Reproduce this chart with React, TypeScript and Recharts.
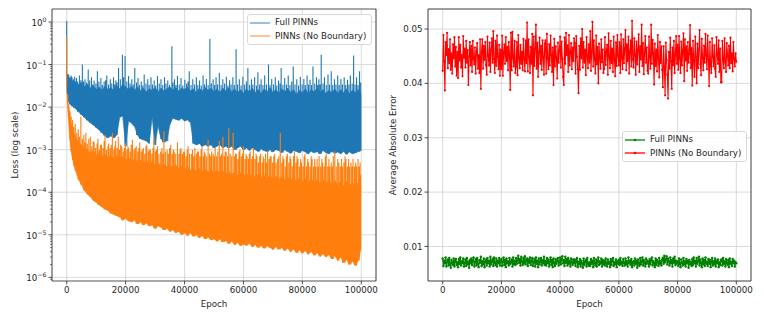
import React from 'react';
import {
  ComposedChart,
  Area,
  Line,
  XAxis,
  YAxis,
  CartesianGrid,
  ReferenceArea,
  Legend,
} from 'recharts';

const FONT = '"DejaVu Sans", Verdana, sans-serif';
const TEXT = '#262626';
const FRAME = '#262626';
const GRID = '#d2d2d2';
const FS = 8.7;

// ---------- left panel: training loss (log scale) ----------
const earlyEpochs = [0, 200, 500, 1000, 1500, 2000, 2500];
const lossEpochs = [...earlyEpochs, ...Array.from({ length: 98 }, (_, i) => 3000 + i * 1000)];

// lower / upper edge of the solid part of each band, read per sampled epoch
const fullLow = [
  0.03, 0.02, 0.014, 0.012, 0.011, 0.0105, 0.0098,
  0.0092, 0.0078, 0.0066, 0.0058, 0.0049, 0.0043, 0.0038, 0.0033, 0.0029, 0.0025,
  0.0021, 0.0019, 0.0021, 0.0019, 0.0022, 0.0058, 0.0062, 0.0012, 0.0047, 0.0042,
  0.0036, 0.0022, 0.0018, 0.0017, 0.0016, 0.0014, 0.0056, 0.0013, 0.0036, 0.0018,
  0.0015, 0.0016, 0.0038, 0.0055, 0.0052, 0.0049, 0.0054, 0.0047, 0.005, 0.0044,
  0.0014, 0.0013, 0.0014, 0.0012, 0.0013, 0.0012, 0.0013, 0.0011, 0.0012, 0.0013,
  0.0011, 0.0012, 0.0011, 0.0012, 0.001, 0.0011, 0.0012, 0.001, 0.0011, 0.00095,
  0.0011, 0.001, 0.0009, 0.00105, 0.00095, 0.0009, 0.001, 0.00088, 0.001, 0.00095,
  0.00085, 0.001, 0.0009, 0.00082, 0.00095, 0.0009, 0.00085, 0.00095, 0.00088, 0.0008,
  0.00092, 0.00085, 0.0009, 0.0008, 0.00095, 0.00085, 0.0008, 0.0009, 0.00082, 0.00088,
  0.0008, 0.0009, 0.00078, 0.00088, 0.0008, 0.00085, 0.0009, 0.00095,
];
const fullHigh = [
  0.06, 0.055, 0.05, 0.045, 0.04, 0.042, 0.036,
  0.04, 0.034, 0.038, 0.03, 0.035, 0.028, 0.032, 0.026, 0.03, 0.025,
  0.031, 0.026, 0.029, 0.024, 0.032, 0.027, 0.034, 0.03, 0.026, 0.031,
  0.025, 0.03, 0.024, 0.028, 0.023, 0.027, 0.025, 0.029, 0.023, 0.028,
  0.024, 0.027, 0.03, 0.025, 0.029, 0.024, 0.028, 0.026, 0.03, 0.024,
  0.027, 0.022, 0.028, 0.024, 0.029, 0.025, 0.028, 0.023, 0.027, 0.022,
  0.028, 0.024, 0.029, 0.023, 0.027, 0.022, 0.026, 0.021, 0.027, 0.023,
  0.028, 0.022, 0.026, 0.021, 0.027, 0.023, 0.029, 0.022, 0.026, 0.021,
  0.027, 0.023, 0.028, 0.022, 0.026, 0.02, 0.025, 0.022, 0.027, 0.021,
  0.026, 0.023, 0.028, 0.022, 0.026, 0.021, 0.025, 0.022, 0.027, 0.021,
  0.026, 0.022, 0.027, 0.021, 0.025, 0.022, 0.026, 0.02,
];
const noBcLow = [
  0.03, 0.012, 0.006, 0.0018, 0.0009, 5.8e-4, 4.2e-4,
  3.2e-4, 2e-4, 1.5e-4, 1.1e-4, 9e-5, 7.8e-5, 6.4e-5, 5.8e-5, 5e-5, 4.5e-5,
  4e-5, 3.7e-5, 3.2e-5, 3e-5, 2.8e-5, 2.6e-5, 2.2e-5, 2.4e-5, 2.1e-5, 2e-5,
  2.2e-5, 1.8e-5, 2e-5, 1.7e-5, 1.9e-5, 1.6e-5, 1.7e-5, 1.4e-5, 1.6e-5, 1.5e-5,
  1.3e-5, 1.4e-5, 1.2e-5, 1.3e-5, 1.1e-5, 1.2e-5, 1e-5, 1.1e-5, 9.5e-6, 1.1e-5,
  9.2e-6, 1e-5, 8.5e-6, 9.5e-6, 8e-6, 8.8e-6, 7.5e-6, 8e-6, 7e-6, 7.8e-6,
  6.8e-6, 7.2e-6, 6.2e-6, 7e-6, 5.8e-6, 6.5e-6, 5.5e-6, 6e-6, 5.6e-6, 6.2e-6,
  5.2e-6, 5.8e-6, 5e-6, 5.6e-6, 4.8e-6, 5.5e-6, 5e-6, 4.5e-6, 5.2e-6, 4.6e-6,
  5e-6, 4.2e-6, 4.8e-6, 4e-6, 4.6e-6, 3.8e-6, 4.4e-6, 3.7e-6, 4.2e-6, 3.5e-6,
  4e-6, 3.3e-6, 3.8e-6, 3.1e-6, 3.6e-6, 3e-6, 3.4e-6, 2.7e-6, 3.2e-6, 2.5e-6,
  3e-6, 2.2e-6, 2.6e-6, 2e-6, 2.4e-6, 1.9e-6, 2.5e-6, 5e-6,
];
const noBcHigh = [
  0.05, 0.02, 0.012, 0.007, 0.004, 0.003, 0.0024,
  0.002, 0.0015, 0.0013, 0.0011, 0.001, 8.5e-4, 9.5e-4, 7.5e-4, 8.5e-4, 7e-4,
  8e-4, 6.6e-4, 7.6e-4, 6.4e-4, 7.2e-4, 6.2e-4, 6.9e-4, 5.7e-4, 6.5e-4, 5.5e-4,
  6e-4, 5.2e-4, 5.8e-4, 4.9e-4, 5.5e-4, 4.6e-4, 5.2e-4, 4.4e-4, 5e-4, 4.2e-4,
  4.7e-4, 4e-4, 4.5e-4, 3.8e-4, 4.4e-4, 3.6e-4, 4.2e-4, 3.5e-4, 4e-4, 3.3e-4,
  3.8e-4, 3.2e-4, 3.6e-4, 3.1e-4, 3.5e-4, 3e-4, 3.4e-4, 2.9e-4, 3.3e-4, 2.8e-4,
  3.2e-4, 2.7e-4, 3.1e-4, 2.6e-4, 3e-4, 2.5e-4, 2.9e-4, 2.4e-4, 2.8e-4, 2.3e-4,
  2.7e-4, 2.2e-4, 2.6e-4, 2.2e-4, 2.5e-4, 2.1e-4, 2.5e-4, 2e-4, 2.4e-4, 2e-4,
  2.3e-4, 1.9e-4, 2.3e-4, 1.9e-4, 2.2e-4, 1.8e-4, 2.2e-4, 1.8e-4, 2.1e-4, 1.7e-4,
  2.1e-4, 1.7e-4, 2e-4, 1.6e-4, 2e-4, 1.6e-4, 1.9e-4, 1.5e-4, 1.9e-4, 1.5e-4,
  1.8e-4, 1.4e-4, 1.8e-4, 1.4e-4, 1.7e-4, 1.4e-4, 1.7e-4, 2.6e-4,
];

// thin spikes sticking out above each band
const fullSpikeEpochs = [
  0, 300, 700, 1100, 1500, 1800, 2300, 2700, 3300, 3700, 4300, 4800, 5300, 5700, 6200, 6700,
  7300, 7800, 8400, 8800, 9300, 9900, 10400, 10900, 11600, 12100, 12700, 13200, 13600, 14200,
  14800, 15300, 15900, 16300, 16700, 17100, 17600, 18200, 18900, 19300, 19800, 20400, 21000,
  21500, 22100, 22600, 23100, 23700, 24200, 24700, 25300, 25800, 26300, 26900, 27500, 28000,
  28600, 29100, 29700, 30200, 30800, 31400, 32000, 32600, 33200, 33700, 34300, 34900, 35700,
  36100, 36600, 37100, 37600, 38200, 38800, 39400, 40100, 40700, 41200, 41600, 42200, 42800,
  43400, 44000, 44500, 45100, 45700, 46300, 46800, 47400, 48000, 48600, 49100, 49700, 50200,
  50700, 51200, 51800, 52400, 53000, 53600, 54200, 54700, 55300, 55800, 56400, 56900, 57500,
  58000, 58600, 59200, 59800, 60400, 61000, 61500, 62100, 62700, 63200, 63800, 64400, 64900,
  65500, 66000, 66600, 67200, 67800, 68500, 69000, 69600, 70200, 70800, 71300, 71900, 72400,
  72800, 73400, 74000, 74600, 75200, 75800, 76400, 76900, 77500, 78100, 78700, 79300, 79900,
  80500, 81000, 81600, 82100, 82600, 83100, 83600, 84200, 84800, 85200, 85600, 86000, 86400,
  87000, 87500, 88100, 88700, 89200, 89800, 90300, 90900, 91400, 92000, 92500, 93100, 93600,
  94200, 94700, 95300, 95800, 96300, 96900, 97400, 97900, 98400, 98900, 99400, 99800,
];
const fullSpikePeaks = [
  1.05, 0.06, 0.058, 0.05, 0.055, 0.05, 0.045, 0.052, 0.048, 0.04, 0.055, 0.043, 0.1, 0.04, 0.045, 0.038,
  0.077, 0.042, 0.05, 0.034, 0.042, 0.036, 0.07, 0.04, 0.048, 0.033, 0.04, 0.043, 0.055, 0.034,
  0.045, 0.036, 0.05, 0.034, 0.042, 0.038, 0.083, 0.045, 0.17, 0.05, 0.158, 0.04, 0.054,
  0.036, 0.045, 0.034, 0.083, 0.038, 0.048, 0.033, 0.04, 0.032, 0.058, 0.036, 0.045, 0.033,
  0.05, 0.034, 0.042, 0.032, 0.054, 0.036, 0.045, 0.033, 0.05, 0.036, 0.042, 0.033, 0.27,
  0.038, 0.045, 0.033, 0.054, 0.034, 0.048, 0.032, 0.044, 0.036, 0.04, 0.07, 0.033, 0.045,
  0.034, 0.05, 0.033, 0.042, 0.032, 0.055, 0.034, 0.046, 0.033, 0.4, 0.036, 0.045, 0.033,
  0.05, 0.034, 0.064, 0.033, 0.045, 0.036, 0.052, 0.032, 0.043, 0.034, 0.05, 0.033, 0.23,
  0.034, 0.045, 0.032, 0.052, 0.034, 0.04, 0.083, 0.033, 0.045, 0.034, 0.05, 0.032, 0.066,
  0.034, 0.045, 0.033, 0.055, 0.034, 0.1, 0.033, 0.046, 0.034, 0.05, 0.032, 0.042, 0.036,
  0.083, 0.033, 0.048, 0.034, 0.055, 0.033, 0.04, 0.09, 0.034, 0.045, 0.032, 0.052, 0.034,
  0.046, 0.033, 0.055, 0.034, 0.044, 0.033, 0.09, 0.036, 0.05, 0.033, 0.045, 0.034, 0.17,
  0.036, 0.05, 0.033, 0.058, 0.034, 0.07, 0.033, 0.045, 0.034, 0.055, 0.033, 0.046, 0.034,
  0.05, 0.033, 0.044, 0.034, 0.055, 0.036, 0.164, 0.034, 0.05, 0.033, 0.07, 0.038,
];
const noBcSpikeEpochs = [
  0, 300, 700, 1100, 1500, 2000, 2400, 2900, 3400, 3900, 4300, 4800, 5300, 5800, 6200, 6500,
  7000, 7500, 8000, 8500, 9000, 9300, 9800, 10300, 10600, 11100, 11500, 11800, 12300, 12700,
  13000, 13500, 14000, 14200, 14700, 15100, 15500, 16000, 16300, 16600, 17100, 17500, 17900,
  18300, 18700, 19200, 19600, 19900, 20400, 20800, 21000, 21500, 21900, 22300, 22800, 23200,
  23600, 24100, 24500, 24800, 25300, 25700, 26000, 26500, 26900, 27200, 27700, 28000, 28400,
  28900, 29300, 29600, 30100, 30500, 30800, 31300, 31900, 32300, 32700, 33000, 33500, 34100,
  34500, 34900, 35300, 35800, 36200, 36500, 37000, 37600, 38100, 38500, 38800, 39300, 39700,
  40000, 40500, 40900, 41200, 41700, 42300, 42700, 43100, 43500, 44000, 44400, 44700, 45200,
  45600, 45900, 46400, 46700, 47000, 47500, 48000, 48500, 48900, 49200, 49700, 50100, 50400,
  50900, 51300, 51800, 52200, 52600, 53000, 53500, 53800, 54100, 54600, 55000, 55500, 56000,
  56500, 57000, 57300, 57600, 58100, 58500, 58800, 59300, 59700, 60000, 60500, 60900, 61200,
  61700, 62000, 62300, 62800, 63100, 63400, 63900, 64300, 64600, 65100, 65500, 65800, 66300,
  66700, 67000, 67500, 67900, 68200, 68700, 69100, 69400, 69900, 70300, 70600, 71100, 71600,
  72000, 72500, 73000, 73400, 73700, 74200, 74600, 74900, 75400, 75800, 76100, 76600, 77000,
  77300, 77800, 78200, 78500, 79000, 79400, 79700, 80200, 80600, 80900, 81400, 81800, 82100,
  82600, 83000, 83300, 83800, 84200, 84500, 85000, 85400, 85700, 86200, 86600, 86900, 87400,
  87800, 88100, 88600, 89000, 89300, 89800, 90200, 90500, 91000, 91500, 92000, 92400, 92900,
  93300, 93600, 94100, 94500, 94800, 95300, 95700, 96000, 96500, 96900, 97200, 97700, 98100,
  98400, 98900, 99300, 99600,
];
const noBcSpikePeaks = [
  0.45, 0.02, 0.012, 0.008, 0.006, 0.005, 0.0035, 0.004, 0.0025, 0.003, 0.002, 0.006, 0.0018, 0.0022, 0.0015, 0.0025,
  0.0014, 0.0018, 0.002, 0.0012, 0.0016, 0.0015, 0.0011, 0.0014, 0.0018, 0.001, 0.0013, 0.0013, 0.0011, 0.0016,
  0.0022, 0.001, 0.0012, 0.0014, 0.0011, 0.0013, 0.0025, 0.001, 0.0012, 0.0016, 0.0011, 0.002, 0.001,
  0.0013, 0.0012, 0.0009, 0.0011, 0.0014, 0.001, 0.0012, 0.0011, 0.0009, 0.0013, 0.0017, 0.001, 0.0011,
  0.0012, 0.0009, 0.0011, 0.0015, 0.0009, 0.001, 0.0011, 0.0008, 0.0012, 0.0013, 0.0009, 0.001, 0.001,
  0.0008, 0.0011, 0.002, 0.0009, 0.001, 0.0012, 0.0008, 0.0009, 0.0011, 0.0008, 0.0027, 0.0009, 0.001,
  0.0008, 0.0011, 0.0013, 0.0008, 0.001, 0.0009, 0.0008, 0.0015, 0.0008, 0.001, 0.0011, 0.0008, 0.0009,
  0.0009, 0.0007, 0.001, 0.0012, 0.0008, 0.0008, 0.001, 0.0007, 0.0011, 0.0008, 0.0009, 0.0009, 0.0007,
  0.001, 0.0012, 0.0007, 0.0009, 0.0008, 0.0007, 0.0017, 0.0008, 0.0007, 0.0009, 0.0008, 0.0007, 0.0011,
  0.0007, 0.0009, 0.0016, 0.0007, 0.0008, 0.002, 0.0007, 0.0009, 0.0009, 0.0007, 0.0032, 0.0008, 0.0007,
  0.0025, 0.0007, 0.0008, 0.0008, 0.0006, 0.0009, 0.001, 0.0007, 0.0008, 0.0012, 0.0006, 0.0008, 0.0007,
  0.0006, 0.0008, 0.0009, 0.0006, 0.0007, 0.0011, 0.0006, 0.0008, 0.0007, 0.0005, 0.0007, 0.0008, 0.0005,
  0.0007, 0.0006, 0.0008, 0.0005, 0.0009, 0.0006, 0.0007, 0.0007, 0.0005, 0.0007, 0.0008, 0.0005, 0.0006,
  0.0007, 0.0025, 0.0005, 0.0007, 0.0006, 0.0004, 0.0007, 0.0008, 0.0005, 0.0007, 0.0006, 0.0004, 0.0007,
  0.0009, 0.0005, 0.0007, 0.0006, 0.0004, 0.0006, 0.0005, 0.0004, 0.0007, 0.0008, 0.0004, 0.0006, 0.0005,
  0.0004, 0.0007, 0.0006, 0.0004, 0.0006, 0.0004, 0.0006, 0.0004, 0.0007, 0.0004, 0.0006, 0.0005, 0.0004,
  0.0007, 0.0008, 0.0004, 0.0006, 0.0004, 0.0005, 0.0004, 0.0007, 0.0009, 0.0004, 0.0006, 0.0005, 0.0004,
  0.0006, 0.0004, 0.0005, 0.0007, 0.0006, 0.0004, 0.0006, 0.0004, 0.0005, 0.0004, 0.0006, 0.0004, 0.0005,
  0.0004, 0.0006, 0.0004, 0.0005,
];

const epochTicks = [0, 20000, 40000, 60000, 80000, 100000];
const lossDecades = [1, 1e-1, 1e-2, 1e-3, 1e-4, 1e-5, 1e-6];
const LOSS_MIN = 8.2e-7;
const LOSS_MAX = 2.02;

// ---------- right panel: average absolute error ----------
const errEpochs = Array.from({ length: 401 }, (_, i) => i * 250);
const fullErr = [
  0.0078, 0.0064, 0.0074, 0.0069, 0.008, 0.0063, 0.0072, 0.0076, 0.0065, 0.0079, 0.0068, 0.0061, 0.0075, 0.007, 0.0066, 0.0078, 0.0063, 0.0073, 0.0077, 0.0066,
  0.0071, 0.0062, 0.0077, 0.0068, 0.008, 0.0065, 0.0073, 0.0069, 0.0078, 0.0063, 0.007, 0.0076, 0.0064, 0.0079, 0.0067, 0.0072, 0.0061, 0.0075, 0.0069, 0.0078,
  0.0066, 0.0074, 0.008, 0.0063, 0.0071, 0.0077, 0.0065, 0.0079, 0.0068, 0.0062, 0.0075, 0.007, 0.0081, 0.0064, 0.0073, 0.0067, 0.0078, 0.0062, 0.0072, 0.0076,
  0.0065, 0.0079, 0.0069, 0.0074, 0.0063, 0.0081, 0.0067, 0.0072, 0.0077, 0.0064, 0.008, 0.007, 0.0066, 0.0078, 0.0063, 0.0074, 0.0069, 0.0079, 0.0065, 0.0073,
  0.0077, 0.0064, 0.0072, 0.008, 0.0066, 0.0075, 0.0062, 0.0078, 0.0069, 0.0073, 0.0065, 0.0079, 0.0068, 0.0071, 0.0076, 0.0063, 0.008, 0.0067, 0.0074, 0.0066,
  0.0079, 0.0068, 0.0075, 0.0083, 0.007, 0.0077, 0.0065, 0.0081, 0.0072, 0.0066, 0.0079, 0.0069, 0.0082, 0.0067, 0.0074, 0.0078, 0.0064, 0.0076, 0.007, 0.008,
  0.0066, 0.0073, 0.0079, 0.0064, 0.0071, 0.0077, 0.0063, 0.008, 0.0068, 0.0074, 0.0062, 0.0078, 0.0067, 0.0072, 0.0079, 0.0065, 0.0075, 0.0069, 0.0081, 0.0066,
  0.0074, 0.0065, 0.0079, 0.0069, 0.0076, 0.0063, 0.0072, 0.008, 0.0066, 0.0075, 0.0062, 0.0078, 0.007, 0.0064, 0.0077, 0.0068, 0.0073, 0.0079, 0.0065, 0.0071,
  0.008, 0.0067, 0.0076, 0.0082, 0.0069, 0.0075, 0.0064, 0.0081, 0.007, 0.0077, 0.0065, 0.0079, 0.0068, 0.0074, 0.0063, 0.0078, 0.0071, 0.0066, 0.0076, 0.0069,
  0.0076, 0.0064, 0.0073, 0.0079, 0.0062, 0.0072, 0.0067, 0.0077, 0.0063, 0.0074, 0.0069, 0.0061, 0.0078, 0.0066, 0.0072, 0.0075, 0.0063, 0.0079, 0.0068, 0.0065,
  0.0071, 0.0064, 0.0077, 0.0068, 0.0074, 0.0062, 0.0079, 0.007, 0.0065, 0.0076, 0.0063, 0.0073, 0.008, 0.0066, 0.0072, 0.0069, 0.0078, 0.0063, 0.0075, 0.0067,
  0.0074, 0.0065, 0.0078, 0.0069, 0.0063, 0.0076, 0.0068, 0.0072, 0.0062, 0.0077, 0.0066, 0.0074, 0.0079, 0.0064, 0.0071, 0.0067, 0.0076, 0.0062, 0.0073, 0.0068,
  0.0075, 0.0066, 0.0079, 0.0068, 0.0072, 0.0064, 0.0077, 0.007, 0.0065, 0.0078, 0.0067, 0.0073, 0.0063, 0.008, 0.0069, 0.0074, 0.0066, 0.0077, 0.0062, 0.0071,
  0.0073, 0.0065, 0.0078, 0.0068, 0.0074, 0.0061, 0.0076, 0.0069, 0.0064, 0.0079, 0.0067, 0.0072, 0.008, 0.0065, 0.0075, 0.007, 0.0063, 0.0078, 0.0068, 0.0074,
  0.0072, 0.0063, 0.0077, 0.0067, 0.0074, 0.008, 0.0065, 0.0073, 0.0069, 0.0062, 0.0078, 0.0066, 0.0075, 0.0071, 0.0064, 0.0079, 0.0068, 0.0073, 0.0065, 0.0076,
  0.0079, 0.0068, 0.0083, 0.0071, 0.0076, 0.0082, 0.0067, 0.0078, 0.0072, 0.0065, 0.008, 0.0069, 0.0075, 0.0063, 0.0078, 0.007, 0.0081, 0.0066, 0.0074, 0.0069,
  0.0073, 0.0064, 0.0078, 0.0068, 0.0062, 0.0076, 0.007, 0.0065, 0.0079, 0.0067, 0.0073, 0.0063, 0.0077, 0.0069, 0.0074, 0.0061, 0.0075, 0.0068, 0.0071, 0.0064,
  0.0077, 0.0066, 0.008, 0.0069, 0.0074, 0.0063, 0.0079, 0.0068, 0.0073, 0.0081, 0.0065, 0.0076, 0.007, 0.0062, 0.0078, 0.0067, 0.0075, 0.0064, 0.008, 0.0068,
  0.0072, 0.0064, 0.0077, 0.0068, 0.0075, 0.0062, 0.0071, 0.0079, 0.0065, 0.0073, 0.0067, 0.0078, 0.0063, 0.0074, 0.0069, 0.0076, 0.0062, 0.0071, 0.0066, 0.0075,
  0.0076, 0.0065, 0.0079, 0.0068, 0.0073, 0.0063, 0.0077, 0.007, 0.0066, 0.0075, 0.0062, 0.0078, 0.0068, 0.0072, 0.0064, 0.0077, 0.0069, 0.0074, 0.0063, 0.0071,
  0.0069,
];
const noBcErr = [
  0.0423, 0.0489, 0.0441, 0.0387, 0.0476, 0.0452, 0.0493, 0.0428, 0.0463, 0.0437, 0.0481, 0.0425, 0.0455, 0.0418, 0.0472, 0.0446, 0.0485, 0.0431, 0.0467, 0.0414,
  0.0458, 0.041, 0.0485, 0.0442, 0.0471, 0.0429, 0.0452, 0.0413, 0.0487, 0.0447, 0.0464, 0.0429, 0.0478, 0.0438, 0.0461, 0.0397, 0.0449, 0.0476, 0.0433, 0.0469,
  0.0421, 0.0478, 0.0445, 0.0435, 0.0466, 0.0418, 0.0459, 0.0474, 0.0427, 0.0452, 0.0419, 0.0481, 0.039, 0.0458, 0.0481, 0.0427, 0.0469, 0.0443, 0.0476, 0.0434,
  0.0416, 0.0486, 0.0451, 0.0433, 0.0475, 0.0421, 0.0462, 0.0483, 0.0438, 0.0496, 0.0445, 0.0419, 0.0478, 0.0432, 0.0488, 0.0449, 0.0426, 0.0471, 0.0414, 0.0462,
  0.0426, 0.0488, 0.0414, 0.0457, 0.0472, 0.0436, 0.0485, 0.0441, 0.0467, 0.0424, 0.0476, 0.0453, 0.0388, 0.0493, 0.0424, 0.0495, 0.0447, 0.0431, 0.0478, 0.0419,
  0.0431, 0.0476, 0.0415, 0.0489, 0.0446, 0.0428, 0.0471, 0.0436, 0.0458, 0.0424, 0.0482, 0.0445, 0.0422, 0.0479, 0.0437, 0.0512, 0.0422, 0.0481, 0.0449, 0.0419,
  0.0467, 0.0436, 0.0491, 0.0378, 0.0486, 0.0432, 0.0463, 0.0508, 0.0427, 0.0475, 0.0412, 0.0457, 0.0484, 0.0436, 0.0469, 0.0425, 0.0479, 0.0448, 0.0416, 0.0473,
  0.0479, 0.0418, 0.0491, 0.0446, 0.0426, 0.0472, 0.0433, 0.0488, 0.0452, 0.0421, 0.0466, 0.0397, 0.0482, 0.0431, 0.0468, 0.0447, 0.0409, 0.0475, 0.0438, 0.0461,
  0.0486, 0.0429, 0.0477, 0.0445, 0.0412, 0.0397, 0.0484, 0.0436, 0.0493, 0.0452, 0.047, 0.0421, 0.0489, 0.0433, 0.0458, 0.0474, 0.0426, 0.0466, 0.0441, 0.0483,
  0.0474, 0.0418, 0.0487, 0.0449, 0.0426, 0.0382, 0.0469, 0.0425, 0.0483, 0.0446, 0.05, 0.0429, 0.0476, 0.0438, 0.0462, 0.0415, 0.0485, 0.0451, 0.0428, 0.0472,
  0.0438, 0.0496, 0.0423, 0.0458, 0.0513, 0.0431, 0.0479, 0.0444, 0.0418, 0.0488, 0.0435, 0.0467, 0.04, 0.0473, 0.0448, 0.0427, 0.0481, 0.0439, 0.0462, 0.0419,
  0.0427, 0.0485, 0.0434, 0.0459, 0.0471, 0.0416, 0.0492, 0.0448, 0.0428, 0.0478, 0.0437, 0.0464, 0.0421, 0.0486, 0.0445, 0.0413, 0.0475, 0.0432, 0.0489, 0.0451,
  0.0433, 0.0476, 0.0419, 0.049, 0.0447, 0.0426, 0.0481, 0.0437, 0.0465, 0.0498, 0.0424, 0.0472, 0.0441, 0.0486, 0.0418, 0.0458, 0.0479, 0.0431, 0.0515, 0.0444,
  0.0429, 0.0483, 0.0452, 0.0416, 0.0477, 0.0435, 0.0462, 0.049, 0.0421, 0.0468, 0.0444, 0.0508, 0.0432, 0.0474, 0.0417, 0.0456, 0.0487, 0.0438, 0.0466, 0.0423,
  0.0418, 0.0486, 0.0449, 0.0427, 0.0508, 0.0436, 0.048, 0.0455, 0.0398, 0.0473, 0.0432, 0.0462, 0.0422, 0.0489, 0.0446, 0.0411, 0.0476, 0.0437, 0.0468, 0.0425,
  0.0393, 0.0468, 0.0429, 0.0378, 0.0475, 0.0443, 0.0416, 0.0372, 0.0458, 0.0427, 0.0484, 0.0441, 0.039, 0.0466, 0.0433, 0.0478, 0.0419, 0.0452, 0.0487, 0.0436,
  0.0471, 0.0425, 0.0487, 0.0446, 0.0419, 0.0477, 0.0433, 0.0461, 0.0492, 0.0404, 0.0481, 0.0442, 0.0468, 0.0423, 0.0476, 0.0438, 0.0454, 0.0507, 0.0428, 0.0465,
  0.0396, 0.0478, 0.0441, 0.0412, 0.0486, 0.0449, 0.04, 0.0473, 0.0428, 0.0462, 0.0498, 0.0435, 0.0415, 0.0482, 0.0447, 0.0424, 0.0469, 0.0438, 0.0491, 0.0451,
  0.0426, 0.0488, 0.0445, 0.0395, 0.0476, 0.0432, 0.0419, 0.0483, 0.0449, 0.0431, 0.047, 0.0427, 0.0412, 0.0485, 0.0452, 0.0436, 0.0479, 0.0421, 0.0464, 0.0402,
  0.0402, 0.0478, 0.0443, 0.0428, 0.0483, 0.0439, 0.0421, 0.0474, 0.0451, 0.0433, 0.0469, 0.0428, 0.0484, 0.0437, 0.0455, 0.0422, 0.0476, 0.0446, 0.0431, 0.0455,
  0.044,
];
const errTicks = [0.01, 0.02, 0.03, 0.04, 0.05];
const ERR_MIN = 0.00365;
const ERR_MAX = 0.05368;

const seriesNames = ['Full PINNs', 'PINNs (No Boundary)'];
const lossColors = ['#1f77b4', '#ff7f0e'];
const errColors = ['#008000', '#ff0000'];

// ---------- tables ----------
const lossTable = lossEpochs.map((epoch, i) => ({
  epoch,
  full: [fullLow[i], fullHigh[i]],
  noBc: [noBcLow[i], noBcHigh[i]],
}));

const nearestIdx = (e: number) => {
  let best = 0;
  lossEpochs.forEach((x, i) => {
    if (Math.abs(x - e) < Math.abs(lossEpochs[best] - e)) best = i;
  });
  return best;
};

// vertical strokes from inside the band up to each spike, broken by nulls
const spikeRows = (epochs: number[], peaks: number[], low: number[]) =>
  epochs.flatMap((epoch, i) =>
    peaks[i] === undefined
      ? []
      : [
          { epoch, loss: low[nearestIdx(epoch)] },
          { epoch, loss: peaks[i] },
          { epoch, loss: null },
        ],
  );

const fullSpikes = spikeRows(fullSpikeEpochs, fullSpikePeaks, fullLow);
const noBcSpikes = spikeRows(noBcSpikeEpochs, noBcSpikePeaks, noBcLow);

const minorTicks: number[] = [];
for (let e = -7; e <= -1; e++) {
  for (let m = 2; m <= 9; m++) {
    const v = m * Math.pow(10, e);
    if (v > LOSS_MIN && v < 1) minorTicks.push(v);
  }
}

const errTable = errEpochs.map((epoch, i) => ({ epoch, full: fullErr[i], noBc: noBcErr[i] }));

// ---------- small components ----------
const LogTick = (props: any) => {
  const { x, y, payload } = props;
  const lg = Math.log10(payload.value);
  const exp = Math.round(lg);
  const major = Math.abs(lg - exp) < 1e-6;
  const axisX = x + 5.5;
  return (
    <g>
      <line
        x1={axisX - (major ? 3.5 : 2)}
        x2={axisX}
        y1={y}
        y2={y}
        stroke={FRAME}
        strokeWidth={major ? 0.8 : 0.6}
      />
      {major && (
        <text x={x} y={y + 4} textAnchor="end" fontSize={FS} fill={TEXT} fontFamily={FONT}>
          10
          <tspan dy={-4} fontSize={6.2}>
            {exp === 0 ? '0' : '\u2212' + String(-exp)}
          </tspan>
        </text>
      )}
    </g>
  );
};

const YTitle = (props: any) => {
  const { viewBox, text, cx } = props;
  const y = viewBox.y + viewBox.height / 2;
  const x = viewBox.x + cx;
  return (
    <text
      x={x}
      y={y}
      transform={`rotate(-90 ${x} ${y})`}
      textAnchor="middle"
      dominantBaseline="central"
      fontSize={FS}
      fill={TEXT}
      fontFamily={FONT}
    >
      {text}
    </text>
  );
};

const XTitle = (props: any) => {
  const { viewBox, text } = props;
  return (
    <text
      x={viewBox.x + viewBox.width / 2}
      y={viewBox.y + 25.5}
      textAnchor="middle"
      fontSize={FS}
      fill={TEXT}
      fontFamily={FONT}
    >
      {text}
    </text>
  );
};

const LegendBox = ({ colors, marker }: { colors: string[]; marker?: boolean }) => (
  <div
    style={{
      width: 122,
      border: '1px solid #d9d9d9',
      borderRadius: 3,
      background: 'rgba(255,255,255,0.85)',
      padding: '1px 0 1px 1px',
      fontFamily: FONT,
      fontSize: FS,
      color: TEXT,
      lineHeight: '13.5px',
    }}
  >
    {seriesNames.map((name, i) => (
      <div key={name} style={{ display: 'flex', alignItems: 'center', height: 13.5 }}>
        <svg width={21} height={6} style={{ marginLeft: 1 }}>
          <line x1={0} x2={20} y1={3} y2={3} stroke={colors[i]} strokeWidth={1.3} strokeOpacity={marker ? 1 : 0.7} />
          {marker && <circle cx={10} cy={3} r={1.3} fill={colors[i]} />}
        </svg>
        <span style={{ marginLeft: 4, whiteSpace: 'nowrap' }}>{name}</span>
      </div>
    ))}
  </div>
);

const App: React.FC = () => {
  return (
    <div style={{ position: 'absolute', left: 0, top: 0, width: 764, height: 316, background: '#fff', fontFamily: FONT }}>
      {/* left: loss */}
      <div style={{ position: 'absolute', left: 0, top: 0 }}>
        <ComposedChart
          width={382}
          height={316}
          data={lossTable}
          margin={{ top: 9, right: 6, bottom: 0, left: 12 }}
          style={{ fontFamily: FONT }}
        >
          <CartesianGrid stroke={GRID} strokeWidth={0.8} horizontalValues={lossDecades} />
          <XAxis
            dataKey="epoch"
            type="number"
            domain={[-5000, 105000]}
            allowDataOverflow
            ticks={epochTicks}
            interval={0}
            height={35}
            tickSize={3.5}
            tickMargin={2.5}
            axisLine={false}
            tickLine={{ stroke: FRAME, strokeWidth: 0.8 }}
            tick={{ fontSize: FS, fill: TEXT }}
            label={<XTitle text="Epoch" />}
          />
          <YAxis
            type="number"
            scale="log"
            domain={[LOSS_MIN, LOSS_MAX]}
            allowDataOverflow
            ticks={[...lossDecades, ...minorTicks]}
            interval={0}
            width={40}
            tickSize={3.5}
            tickMargin={2}
            axisLine={false}
            tickLine={false}
            tick={<LogTick />}
            label={<YTitle text="Loss (log scale)" cx={3} />}
          />
          <Area
            dataKey="full"
            type="linear"
            stroke={lossColors[0]}
            strokeWidth={0.6}
            fill={lossColors[0]}
            fillOpacity={1}
            dot={false}
            activeDot={false}
            isAnimationActive={false}
          />
          <Line
            data={fullSpikes}
            dataKey="loss"
            type="linear"
            stroke={lossColors[0]}
            strokeWidth={1.1}
            dot={false}
            activeDot={false}
            legendType="none"
            isAnimationActive={false}
          />
          <Area
            dataKey="noBc"
            type="linear"
            stroke={lossColors[1]}
            strokeWidth={0.6}
            fill={lossColors[1]}
            fillOpacity={1}
            dot={false}
            activeDot={false}
            isAnimationActive={false}
          />
          <Line
            data={noBcSpikes}
            dataKey="loss"
            type="linear"
            stroke={lossColors[1]}
            strokeWidth={1.1}
            dot={false}
            activeDot={false}
            legendType="none"
            isAnimationActive={false}
          />
          <ReferenceArea
            x1={-5000}
            x2={105000}
            y1={LOSS_MIN}
            y2={LOSS_MAX}
            fill="none"
            stroke={FRAME}
            strokeWidth={0.8}
            ifOverflow="visible"
          />
          <Legend
            layout="vertical"
            align="center"
            verticalAlign="middle"
            wrapperStyle={{ position: 'absolute', left: 247, top: 14, width: 124 }}
            content={() => <LegendBox colors={lossColors} />}
          />
        </ComposedChart>
      </div>

      {/* right: average absolute error */}
      <div style={{ position: 'absolute', left: 382, top: 0 }}>
        <ComposedChart
          width={382}
          height={316}
          data={errTable}
          margin={{ top: 9, right: 13, bottom: 0, left: 6 }}
          style={{ fontFamily: FONT }}
        >
          <CartesianGrid stroke={GRID} strokeWidth={0.8} />
          <XAxis
            dataKey="epoch"
            type="number"
            domain={[-5000, 105000]}
            allowDataOverflow
            ticks={epochTicks}
            interval={0}
            height={35}
            tickSize={3.5}
            tickMargin={2.5}
            axisLine={false}
            tickLine={{ stroke: FRAME, strokeWidth: 0.8 }}
            tick={{ fontSize: FS, fill: TEXT }}
            label={<XTitle text="Epoch" />}
          />
          <YAxis
            type="number"
            domain={[ERR_MIN, ERR_MAX]}
            allowDataOverflow
            ticks={errTicks}
            interval={0}
            width={40}
            tickSize={3.5}
            tickMargin={2}
            axisLine={false}
            tickLine={{ stroke: FRAME, strokeWidth: 0.8 }}
            tick={{ fontSize: FS, fill: TEXT }}
            tickFormatter={(v: number) => v.toFixed(2)}
            label={<YTitle text="Average Absolute Error" cx={4.7} />}
          />
          <Line
            dataKey="full"
            type="linear"
            stroke={errColors[0]}
            strokeWidth={1.2}
            dot={{ r: 1.2, fill: errColors[0], stroke: 'none' }}
            activeDot={false}
            isAnimationActive={false}
          />
          <Line
            dataKey="noBc"
            type="linear"
            stroke={errColors[1]}
            strokeWidth={1.1}
            dot={{ r: 1.1, fill: errColors[1], stroke: 'none' }}
            activeDot={false}
            isAnimationActive={false}
          />
          <ReferenceArea
            x1={-5000}
            x2={105000}
            y1={ERR_MIN}
            y2={ERR_MAX}
            fill="none"
            stroke={FRAME}
            strokeWidth={0.8}
            ifOverflow="visible"
          />
          <Legend
            layout="vertical"
            align="center"
            verticalAlign="middle"
            wrapperStyle={{ position: 'absolute', left: 240, top: 131, width: 125 }}
            content={() => <LegendBox colors={errColors} marker />}
          />
        </ComposedChart>
      </div>
    </div>
  );
};

export default App;
